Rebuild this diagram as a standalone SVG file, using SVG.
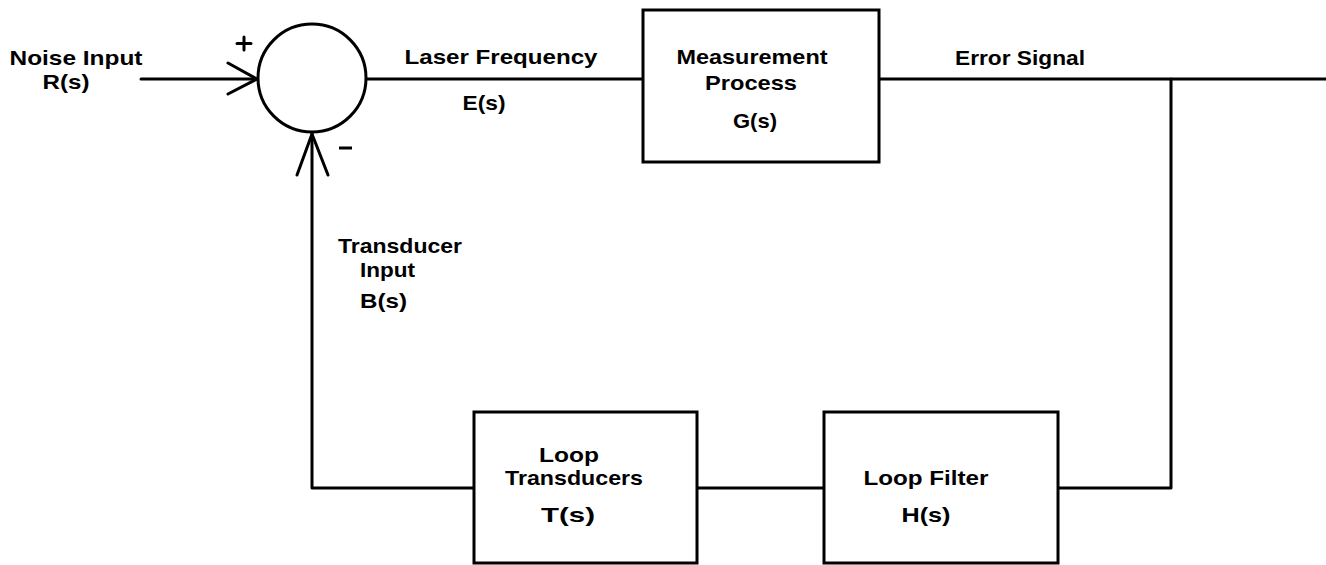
<svg xmlns="http://www.w3.org/2000/svg" width="1326" height="565" viewBox="0 0 1326 565">
  <style>
    .ln { fill: none; stroke: #000; stroke-width: 3; stroke-linecap: round; stroke-linejoin: round; }
    .box { fill: #fff; stroke: #000; stroke-width: 3; }
    .t { font-family: "Liberation Sans", Arial, sans-serif; font-weight: bold; font-size: 21px; fill: #000; }
    .m { text-anchor: middle; }
  </style>
  <rect width="1326" height="565" fill="#fff"/>

  <!-- connectors -->
  <g id="connectors">
    <line class="ln" x1="141" y1="79" x2="258" y2="79"/>
    <polyline class="ln" points="228,63 257,79 228,94"/>
    <line class="ln" x1="367" y1="79" x2="643" y2="79"/>
    <line class="ln" x1="879" y1="79" x2="1326" y2="79"/>
    <polyline class="ln" points="1171,79 1171,488 1058,488"/>
    <line class="ln" x1="697" y1="488" x2="824" y2="488"/>
    <polyline class="ln" points="474,488 312,488 312,134"/>
    <polyline class="ln" points="297,175 312,134 328,175"/>
  </g>

  <!-- summing junction -->
  <g id="sum">
    <circle class="box" cx="312" cy="78" r="54"/>
    <path class="ln" d="M237,43.5 H251 M244,37 V50"/>
    <line x1="339" y1="148" x2="352" y2="148" stroke="#000" stroke-width="3"/>
  </g>

  <!-- signal labels -->
  <g id="labels">
    <text class="t m" x="76" y="65" textLength="133" lengthAdjust="spacingAndGlyphs">Noise Input</text>
    <text class="t m" x="66" y="89" textLength="47" lengthAdjust="spacingAndGlyphs">R(s)</text>
    <text class="t m" x="501" y="64" textLength="193" lengthAdjust="spacingAndGlyphs">Laser Frequency</text>
    <text class="t m" x="484" y="110" textLength="43" lengthAdjust="spacingAndGlyphs">E(s)</text>
    <text class="t m" x="1020" y="65" textLength="130" lengthAdjust="spacingAndGlyphs">Error Signal</text>
    <text class="t" x="338" y="253" textLength="124" lengthAdjust="spacingAndGlyphs">Transducer</text>
    <text class="t" x="360" y="277" textLength="55" lengthAdjust="spacingAndGlyphs">Input</text>
    <text class="t" x="360" y="308" textLength="47" lengthAdjust="spacingAndGlyphs">B(s)</text>
  </g>

  <!-- measurement process block -->
  <g id="measurement">
    <rect class="box" x="643" y="10" width="236" height="152"/>
    <text class="t m" x="752" y="64" textLength="151" lengthAdjust="spacingAndGlyphs">Measurement</text>
    <text class="t m" x="751" y="90" textLength="92" lengthAdjust="spacingAndGlyphs">Process</text>
    <text class="t m" x="755" y="128" textLength="44" lengthAdjust="spacingAndGlyphs">G(s)</text>
  </g>

  <!-- loop transducers block -->
  <g id="transducers">
    <rect class="box" x="474" y="412" width="223" height="151"/>
    <text class="t m" x="569" y="462" textLength="60" lengthAdjust="spacingAndGlyphs">Loop</text>
    <text class="t m" x="574" y="485" textLength="138" lengthAdjust="spacingAndGlyphs">Transducers</text>
    <text class="t m" x="568" y="522" textLength="54" lengthAdjust="spacingAndGlyphs">T(s)</text>
  </g>

  <!-- loop filter block -->
  <g id="filter">
    <rect class="box" x="824" y="412" width="234" height="151"/>
    <text class="t m" x="926" y="485" textLength="125" lengthAdjust="spacingAndGlyphs">Loop Filter</text>
    <text class="t m" x="926" y="522" textLength="49" lengthAdjust="spacingAndGlyphs">H(s)</text>
  </g>
</svg>
